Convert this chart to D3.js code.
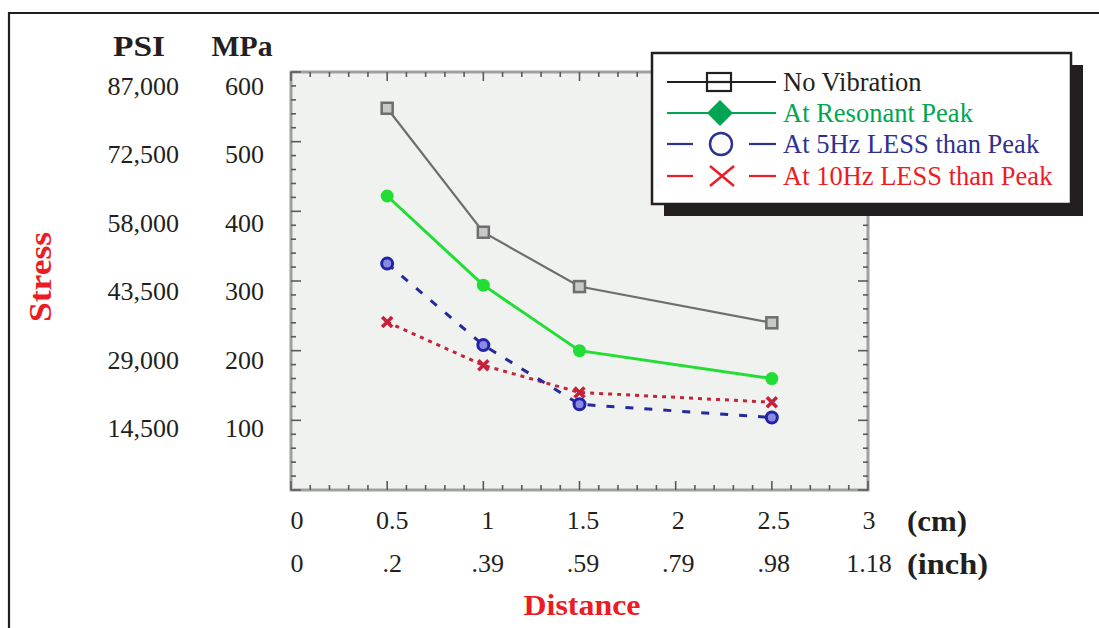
<!DOCTYPE html>
<html><head><meta charset="utf-8">
<script src="https://cdn.jsdelivr.net/npm/d3@7"></script>
<style>
html,body{margin:0;padding:0;background:#fff;}
svg text{font-family:"Liberation Serif","Times New Roman",serif;}
</style></head>
<body>
<svg id="chart" width="1099" height="628"></svg>
<script>
// ---------- data ----------
const distancesCm = [0.5, 1, 1.5, 2.5];
const noVibration = [548, 370, 292, 240];
const resonantPeak = [422, 294, 200, 160];
const less5Hz = [325, 208, 123, 104];
const less10Hz = [241, 179, 140, 126];
const seriesNames = ["No Vibration", "At Resonant Peak", "At 5Hz LESS than Peak", "At 10Hz LESS than Peak"];
const cmTicks = [0, 0.5, 1, 1.5, 2, 2.5, 3];
const inchLabels = ["0", ".2", ".39", ".59", ".79", ".98", "1.18"];
const mpaTicks = [600, 500, 400, 300, 200, 100];
const psiLabels = ["87,000", "72,500", "58,000", "43,500", "29,000", "14,500"];

// ---------- setup ----------
const svg = d3.select("#chart");
const W = 1099, H = 628;
const plot = {left: 291, right: 868, top: 72, bottom: 490};
const x = d3.scaleLinear().domain([0, 3]).range([plot.left, plot.right]);
const y = d3.scaleLinear().domain([0, 600]).range([plot.bottom, plot.top]);
const xLab = d3.scaleLinear().domain([0, 3]).range([297, 869]);
const yLab = d3.scaleLinear().domain([0, 600]).range([496.5, 85.5]);

// outer frame (clipped at right/bottom)
svg.append("path").attr("d", `M9,${H} L9,13 L${W},13`).attr("fill", "none")
  .attr("stroke", "#231f20").attr("stroke-width", 2.2);

// plot background
svg.append("rect").attr("x", plot.left).attr("y", plot.top)
  .attr("width", plot.right - plot.left).attr("height", plot.bottom - plot.top)
  .attr("fill", "#eff2ef").attr("stroke", "#a0a0a0").attr("stroke-width", 3);

// inner ticks on all four sides
const tickCol = "#5a5a5a";
const xMinor = d3.range(0, 3.0001, 0.1);
const yMinor = d3.range(0, 600.001, 20);
function isMajorX(v){ return Math.abs(v*2 - Math.round(v*2)) < 1e-6; }
function isMajorY(v){ return Math.abs(v/100 - Math.round(v/100)) < 1e-6; }
const gT = svg.append("g").attr("stroke", tickCol).attr("stroke-width", 1.6);
xMinor.forEach(v => {
  const L = isMajorX(v) ? 9 : 5;
  gT.append("line").attr("x1", x(v)).attr("x2", x(v)).attr("y1", plot.bottom).attr("y2", plot.bottom - L);
  gT.append("line").attr("x1", x(v)).attr("x2", x(v)).attr("y1", plot.top).attr("y2", plot.top + L);
});
yMinor.forEach(v => {
  const L = isMajorY(v) ? 10 : 5;
  gT.append("line").attr("y1", y(v)).attr("y2", y(v)).attr("x1", plot.left).attr("x2", plot.left + L);
  gT.append("line").attr("y1", y(v)).attr("y2", y(v)).attr("x1", plot.right).attr("x2", plot.right - L);
});

// ---------- axis labels ----------
const gY = svg.append("g").attr("font-size", 26).attr("fill", "#231f20");
mpaTicks.forEach((v, i) => {
  gY.append("text").attr("x", 264).attr("y", yLab(v)).attr("dy", "0.35em")
    .attr("text-anchor", "end").text(d3.format("d")(v));
  gY.append("text").attr("x", 179).attr("y", yLab(v)).attr("dy", "0.35em")
    .attr("text-anchor", "end").text(psiLabels[i]);
});
svg.append("text").attr("x", 139).attr("y", 56).attr("text-anchor", "middle")
  .attr("font-size", 30).attr("font-weight", "bold").attr("fill", "#231f20")
  .attr("textLength", 52).attr("lengthAdjust", "spacingAndGlyphs").text("PSI");
svg.append("text").attr("x", 242).attr("y", 56).attr("text-anchor", "middle")
  .attr("font-size", 30).attr("font-weight", "bold").attr("fill", "#231f20")
  .attr("textLength", 61).attr("lengthAdjust", "spacingAndGlyphs").text("MPa");

const gX = svg.append("g").attr("font-size", 26).attr("fill", "#231f20").attr("text-anchor", "middle");
cmTicks.forEach((v, i) => {
  gX.append("text").attr("x", xLab(v)).attr("y", 520).attr("dy", "0.35em").text(String(v));
  gX.append("text").attr("x", xLab(v)).attr("y", 563).attr("dy", "0.35em").text(inchLabels[i]);
});
svg.append("text").attr("x", 907).attr("y", 520).attr("dy", "0.35em")
  .attr("font-size", 30).attr("font-weight", "bold").attr("fill", "#231f20")
  .attr("textLength", 60).attr("lengthAdjust", "spacingAndGlyphs").text("(cm)");
svg.append("text").attr("x", 907).attr("y", 563).attr("dy", "0.35em")
  .attr("font-size", 30).attr("font-weight", "bold").attr("fill", "#231f20")
  .attr("textLength", 81).attr("lengthAdjust", "spacingAndGlyphs").text("(inch)");

svg.append("text").attr("x", 582).attr("y", 615).attr("text-anchor", "middle")
  .attr("font-size", 30).attr("font-weight", "bold").attr("fill", "#ed1c24")
  .attr("textLength", 117).attr("lengthAdjust", "spacingAndGlyphs").text("Distance");
svg.append("text").attr("transform", "translate(51,277) rotate(-90)").attr("text-anchor", "middle")
  .attr("font-size", 31).attr("font-weight", "bold").attr("fill", "#ed1c24")
  .attr("textLength", 90).attr("lengthAdjust", "spacingAndGlyphs").text("Stress");

// ---------- series ----------
const line = d3.line().x(d => x(d[0])).y(d => y(d[1]));
function pts(vals){ return distancesCm.map((c, i) => [c, vals[i]]); }

// 10Hz (red dotted)
svg.append("path").datum(pts(less10Hz)).attr("d", line).attr("fill", "none")
  .attr("stroke", "#c4243a").attr("stroke-width", 3).attr("stroke-dasharray", "4,5");
// 5Hz (blue dashed)
svg.append("path").datum(pts(less5Hz)).attr("d", line).attr("fill", "none")
  .attr("stroke", "#27289a").attr("stroke-width", 3).attr("stroke-dasharray", "8,11");
// resonant (green)
svg.append("path").datum(pts(resonantPeak)).attr("d", line).attr("fill", "none")
  .attr("stroke", "#22dd33").attr("stroke-width", 3);
// no vibration (gray)
svg.append("path").datum(pts(noVibration)).attr("d", line).attr("fill", "none")
  .attr("stroke", "#6e6e6e").attr("stroke-width", 2.2);

// markers
svg.append("g").selectAll("path").data(pts(less10Hz)).join("path")
  .attr("transform", d => `translate(${x(d[0])},${y(d[1])})`)
  .attr("d", "M-5,-5L5,5M-5,5L5,-5").attr("stroke", "#c8203a").attr("stroke-width", 3.5);
svg.append("g").selectAll("circle").data(pts(less5Hz)).join("circle")
  .attr("cx", d => x(d[0])).attr("cy", d => y(d[1])).attr("r", 5.5)
  .attr("fill", "#8a8ae0").attr("stroke", "#2323a8").attr("stroke-width", 3);
svg.append("g").selectAll("circle").data(pts(resonantPeak)).join("circle")
  .attr("cx", d => x(d[0])).attr("cy", d => y(d[1])).attr("r", 6.5)
  .attr("fill", "#22dd33");
svg.append("g").selectAll("rect").data(pts(noVibration)).join("rect")
  .attr("x", d => x(d[0]) - 5.5).attr("y", d => y(d[1]) - 5.5).attr("width", 11).attr("height", 11)
  .attr("fill", "#c8c8c8").attr("stroke", "#6e6e6e").attr("stroke-width", 2.5);

// ---------- legend ----------
const lg = {x: 652, y: 53, w: 419, h: 151};
svg.append("rect").attr("x", lg.x + 12).attr("y", lg.y + 12).attr("width", lg.w).attr("height", lg.h)
  .attr("fill", "#231f20");
svg.append("rect").attr("x", lg.x).attr("y", lg.y).attr("width", lg.w).attr("height", lg.h)
  .attr("fill", "#fff").attr("stroke", "#231f20").attr("stroke-width", 2.5);
const legendColors = ["#231f20", "#00a651", "#2e3192", "#ed1c24"];
const rowY = [82, 113, 144, 176];
const gL = svg.append("g");
seriesNames.forEach((name, i) => {
  const c = legendColors[i], yy = rowY[i];
  if (i < 2) {
    gL.append("line").attr("x1", 667).attr("x2", 776).attr("y1", yy).attr("y2", yy)
      .attr("stroke", c).attr("stroke-width", 2.2);
  } else {
    gL.append("line").attr("x1", 667).attr("x2", 693).attr("y1", yy).attr("y2", yy)
      .attr("stroke", c).attr("stroke-width", 2.2);
    gL.append("line").attr("x1", 749).attr("x2", 776).attr("y1", yy).attr("y2", yy)
      .attr("stroke", c).attr("stroke-width", 2.2);
  }
  if (i === 0) {
    gL.append("rect").attr("x", 707).attr("y", yy - 9).attr("width", 24).attr("height", 18)
      .attr("fill", "#fff").attr("stroke", c).attr("stroke-width", 2.2);
    gL.append("line").attr("x1", 707).attr("x2", 731).attr("y1", yy).attr("y2", yy)
      .attr("stroke", c).attr("stroke-width", 2.2);
  } else if (i === 1) {
    gL.append("path").attr("d", `M720,${yy-13}L733,${yy}L720,${yy+13}L707,${yy}Z`).attr("fill", c);
  } else if (i === 2) {
    gL.append("circle").attr("cx", 721).attr("cy", yy).attr("r", 11)
      .attr("fill", "none").attr("stroke", c).attr("stroke-width", 2.5);
  } else {
    gL.append("path").attr("d", `M710,${yy-10}L734,${yy+10}M710,${yy+10}L734,${yy-10}`)
      .attr("stroke", c).attr("stroke-width", 2.5);
  }
  gL.append("text").attr("x", 783).attr("y", yy).attr("dy", "0.35em")
    .attr("font-size", 26.5).attr("fill", c).text(name);
});
</script>
</body></html>
